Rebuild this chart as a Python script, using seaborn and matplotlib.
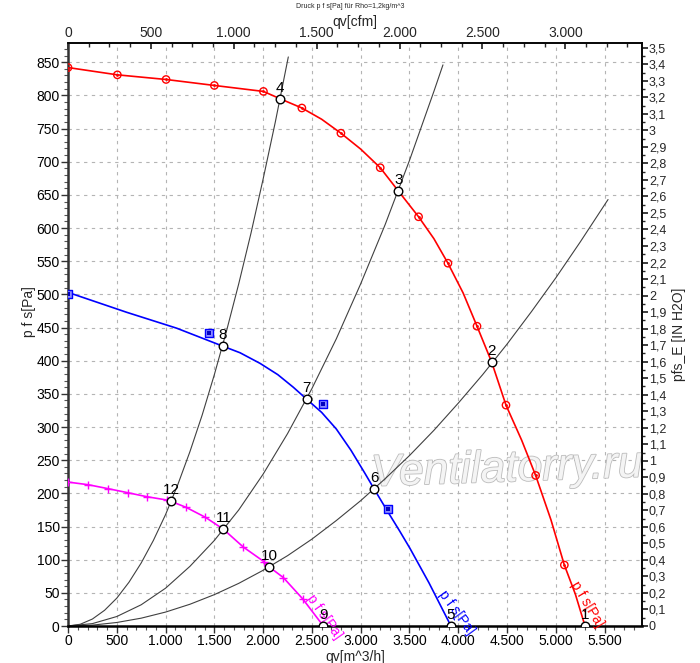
import numpy as np
import pandas as pd
import matplotlib
matplotlib.use("Agg")
import matplotlib.pyplot as plt
import matplotlib.patheffects as pe
from matplotlib.ticker import MultipleLocator, FixedLocator, FuncFormatter
import seaborn as sns

# fan curves, qv [m^3/h] vs p fs [Pa]
red_q = [0, 506, 1005, 1500, 2003, 2173, 2397, 2600, 2797, 3000, 3200, 3385, 3593, 3750, 3894, 4050, 4192, 4342, 4489, 4650, 4793, 4950, 5087, 5200, 5299]
red_p = [842, 831, 824, 815, 806, 795, 781, 764, 743, 719, 691, 656, 617, 584, 547, 502, 452, 398, 333, 280, 227, 160, 92, 48, 0]
red_mark_q = [0, 506, 1005, 1500, 2003, 2397, 2797, 3200, 3593, 3894, 4192, 4489, 4793, 5087]
red_mark_p = [842, 831, 824, 815, 806, 781, 743, 691, 617, 547, 452, 333, 227, 92]

blue_q = [0, 601, 1114, 1585, 1763, 1968, 2150, 2309, 2446, 2600, 2750, 2900, 3040, 3140, 3283, 3400, 3505, 3700, 3925]
blue_p = [503, 473, 449, 422, 412, 396, 379, 360, 342, 322, 297, 265, 231, 206, 171, 143, 117, 65, 0]
blue_mark_q = [0, 1448, 2613, 3283]
blue_mark_p = [501, 442, 334, 177]

pink_q = [0, 208, 413, 612, 806, 1011, 1055, 1209, 1407, 1592, 1797, 2009, 2063, 2207, 2405, 2617]
pink_p = [217, 213, 207, 201, 195, 190, 188, 179, 164, 146, 119, 97, 89, 73, 41, 0]
pink_mark_q = [0, 208, 413, 612, 806, 1011, 1209, 1407, 1797, 2009, 2207, 2405]
pink_mark_p = [217, 213, 207, 201, 195, 190, 179, 164, 119, 97, 73, 41]

# system curves
sysA_q = [0, 125, 250, 375, 500, 625, 750, 875, 1000, 1125, 1250, 1375, 1500, 1625, 1750, 1875, 2000, 2125, 2258]
sysA_p = [0, 2.6, 10.5, 23.7, 42, 66, 95, 129, 168, 213, 263, 318, 379, 445, 516, 592, 674, 760, 858]
sysB_q = [0, 250, 500, 750, 1000, 1250, 1500, 1750, 2000, 2250, 2500, 2750, 3000, 3250, 3500, 3750, 3843]
sysB_p = [0, 3.6, 14.3, 32, 57, 90, 129, 175, 229, 290, 358, 433, 516, 605, 702, 806, 846]
sysC_q = [0, 250, 500, 750, 1000, 1250, 1500, 1750, 2000, 2250, 2500, 2750, 3000, 3250, 3500, 3750, 4000, 4250, 4500, 4750, 5000, 5250, 5535]
sysC_p = [0, 1.3, 5.3, 11.8, 21, 32.8, 47.3, 64.3, 84, 106, 131, 159, 189, 222, 257, 295, 336, 379, 425, 474, 525, 579, 643]

# operating points
pt_names = ["1", "2", "3", "4", "5", "6", "7", "8", "9", "10", "11", "12"]
pt_q = [5299, 4342, 3385, 2173, 3925, 3140, 2446, 1585, 2617, 2063, 1592, 1055]
pt_p = [0, 398, 656, 795, 0, 206, 342, 422, 0, 89, 146, 188]

# secondary axis ticks
cfm_ticks = [0, 500, 1000, 1500, 2000, 2500, 3000]
inh2o_ticks = [round(i * 0.1, 1) for i in range(36)]

sns.set_theme(style="white")
plt.rcParams['font.family'] = ['Liberation Sans', 'DejaVu Sans']

fig = plt.figure(figsize=(7, 6.63), dpi=100)
ax = fig.add_axes([68/700, 37/663, 574/700, 583/663])

gcol = "#404040"
for q, p in [(sysA_q, sysA_p), (sysB_q, sysB_p), (sysC_q, sysC_p)]:
    sns.lineplot(x=q, y=p, ax=ax, color=gcol, linewidth=0.8, sort=False, estimator=None)

sns.lineplot(x=red_q, y=red_p, ax=ax, color="#ff0000", linewidth=1.2, sort=False, estimator=None)
sns.lineplot(x=blue_q, y=blue_p, ax=ax, color="#0000ff", linewidth=1.2, sort=False, estimator=None)
sns.lineplot(x=pink_q, y=pink_p, ax=ax, color="#ff00ff", linewidth=1.2, sort=False, estimator=None)

sns.scatterplot(x=red_mark_q, y=red_mark_p, ax=ax, marker="o", s=28, facecolor="none",
                edgecolor="#ff0000", linewidth=1, zorder=4)
sns.scatterplot(x=red_mark_q, y=red_mark_p, ax=ax, marker="o", s=4, color="#ff0000",
                linewidth=0, zorder=4)
sns.scatterplot(x=blue_mark_q, y=blue_mark_p, ax=ax, marker="s", s=28, facecolor="#8c8cff",
                edgecolor="#0000ff", linewidth=1, zorder=4)
sns.scatterplot(x=blue_mark_q, y=blue_mark_p, ax=ax, marker="s", s=5, color="#0000c0",
                linewidth=0, zorder=4)
sns.scatterplot(x=pink_mark_q, y=pink_mark_p, ax=ax, marker="+", s=40, color="#ff00ff",
                linewidth=1, zorder=4)

sns.scatterplot(x=pt_q, y=pt_p, ax=ax, marker="o", s=38, facecolor="white",
                edgecolor="black", linewidth=1, zorder=5)
for n, q, p in zip(pt_names, pt_q, pt_p):
    ax.annotate(n, (q, p), xytext=(0, 3), textcoords="offset points", ha="center",
                va="bottom", fontsize=11, color="black", zorder=6)

# curve labels
ax.text(2475, 46, "p f s[Pa]", color="#ff00ff", fontsize=10, rotation=-55,
        rotation_mode="anchor", ha="left", va="center", clip_on=False)
ax.text(3830, 52, "p f s[Pa]", color="#0000ff", fontsize=10, rotation=-54,
        rotation_mode="anchor", ha="left", va="center", clip_on=False)
ax.text(5190, 66, "p f s[Pa]", color="#ff0000", fontsize=10, rotation=-59,
        rotation_mode="anchor", ha="left", va="center", clip_on=False)

# watermark
ax.text(0.765, 0.268, "Ventilatorry.ru", transform=ax.transAxes, fontsize=32,
        style="italic", color="#f4f4f4", ha="center", va="center", rotation=2, zorder=1,
        path_effects=[pe.withStroke(linewidth=1.2, foreground="#bcbcbc")])

ax.set_xlim(0, 5883)
ax.set_ylim(0, 879)
ax.grid(True, color="#b4b4b4", linestyle=(0, (3, 4)), linewidth=0.8)
ax.set_axisbelow(True)
ax.xaxis.set_major_locator(MultipleLocator(500))
ax.xaxis.set_minor_locator(MultipleLocator(100))
ax.yaxis.set_major_locator(MultipleLocator(50))
ax.yaxis.set_minor_locator(MultipleLocator(10))

de_int = FuncFormatter(lambda v, pos: f"{int(round(v)):,}".replace(",", "."))
ax.xaxis.set_major_formatter(de_int)

for s in ["left", "bottom"]:
    ax.spines[s].set_linewidth(1.8)
    ax.spines[s].set_color("#333333")
ax.spines["bottom"].set_color("black")
for s in ["top", "right"]:
    ax.spines[s].set_linewidth(1.2)
    ax.spines[s].set_color("black")

ax.tick_params(axis="both", which="major", direction="out", length=5, width=1,
               labelsize=10, pad=1, colors="#333333", labelcolor="black")
ax.tick_params(axis="both", which="minor", direction="out", length=3, width=0.8,
               colors="#555555")
ax.tick_params(axis="x", which="both", bottom=True)
ax.tick_params(axis="y", which="both", left=True)

ax.set_xlabel("qv[m^3/h]", fontsize=10, labelpad=1)
ax.set_ylabel("p f s[Pa]", fontsize=10, labelpad=4)
ax.yaxis.set_label_coords(-0.055, 0.54)

# top axis cfm
cfm = 0.588578
top = ax.secondary_xaxis("top", functions=(lambda x: x * cfm, lambda x: x / cfm))
top.xaxis.set_major_locator(FixedLocator(cfm_ticks))
top.xaxis.set_minor_locator(FixedLocator([t + d for t in cfm_ticks for d in (125, 250, 375)]))
top.xaxis.set_major_formatter(de_int)
top.tick_params(which="major", direction="in", length=4, labelsize=10, pad=2)
top.tick_params(which="minor", direction="in", length=3)
top.set_xlabel("qv[cfm]", fontsize=10, labelpad=0)

# right axis in H2O
inh2o = 249.089
right = ax.secondary_yaxis("right", functions=(lambda p: p / inh2o, lambda p: p * inh2o))
right.yaxis.set_major_locator(FixedLocator(inh2o_ticks))
right.yaxis.set_minor_locator(FixedLocator([t + 0.05 for t in inh2o_ticks[:-1]]))

def in_fmt(v, pos):
    s = f"{v:.1f}"
    if s.endswith(".0"):
        s = s[:-2]
    return s.replace(".", ",")

right.yaxis.set_major_formatter(FuncFormatter(in_fmt))
right.tick_params(which="major", direction="out", length=4, labelsize=9, pad=1)
right.tick_params(which="minor", direction="out", length=2)
right.set_ylabel("pfs_E [IN H2O]", fontsize=10, labelpad=4)

fig.text(0.5, 1 - 6/663, "Druck p f s[Pa] für Rho=1,2kg/m^3", fontsize=5,
         ha="center", va="center")

fig.savefig("out.png", dpi=100)
